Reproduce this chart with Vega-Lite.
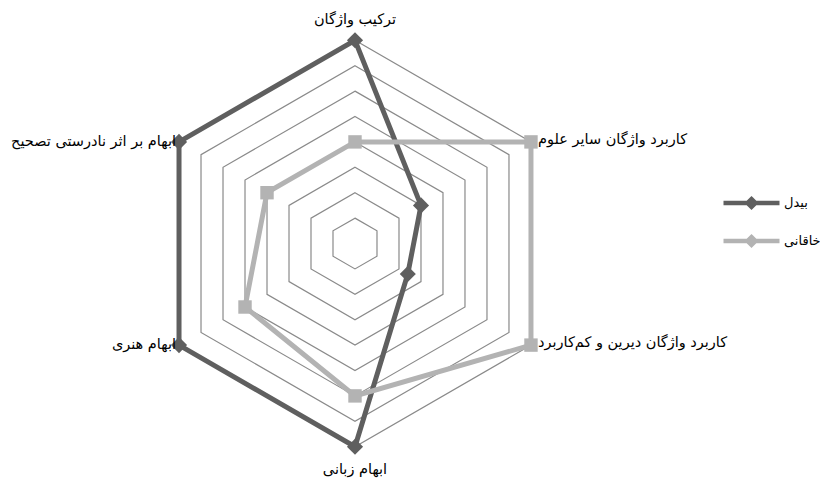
{
  "$schema": "https://vega.github.io/schema/vega-lite/v6.json",
  "width": 820,
  "height": 483,
  "autosize": {"type": "none"},
  "padding": 0,
  "background": "white",
  "config": {"view": {"stroke": null}, "font": "DejaVu Sans"},
  "datasets": {
    "scores": [
      {"series": "بیدل", "axis": 0, "value": 8},
      {"series": "بیدل", "axis": 1, "value": 3},
      {"series": "بیدل", "axis": 2, "value": 2.4},
      {"series": "بیدل", "axis": 3, "value": 8},
      {"series": "بیدل", "axis": 4, "value": 8},
      {"series": "بیدل", "axis": 5, "value": 8},
      {"series": "خاقانی", "axis": 0, "value": 4},
      {"series": "خاقانی", "axis": 1, "value": 8},
      {"series": "خاقانی", "axis": 2, "value": 8},
      {"series": "خاقانی", "axis": 3, "value": 6},
      {"series": "خاقانی", "axis": 4, "value": 5},
      {"series": "خاقانی", "axis": 5, "value": 4}
    ],
    "axes": [
      {"axis": 0, "label": "ترکیب واژگان"},
      {"axis": 1, "label": "کاربرد واژگان سایر علوم"},
      {"axis": 2, "label": "کاربرد واژگان دیرین و کم‌کاربرد"},
      {"axis": 3, "label": "ابهام زبانی"},
      {"axis": 4, "label": "ابهام هنری"},
      {"axis": 5, "label": "ابهام بر اثر نادرستی تصحیح"}
    ],
    "grid": [
      {"level": 1, "axis": [0, 1, 2, 3, 4, 5]},
      {"level": 2, "axis": [0, 1, 2, 3, 4, 5]},
      {"level": 3, "axis": [0, 1, 2, 3, 4, 5]},
      {"level": 4, "axis": [0, 1, 2, 3, 4, 5]},
      {"level": 5, "axis": [0, 1, 2, 3, 4, 5]},
      {"level": 6, "axis": [0, 1, 2, 3, 4, 5]},
      {"level": 7, "axis": [0, 1, 2, 3, 4, 5]},
      {"level": 8, "axis": [0, 1, 2, 3, 4, 5]}
    ]
  },
  "encoding": {
    "x": {"field": "x", "type": "quantitative", "axis": null, "scale": {"domain": [-13.976, 18.307], "nice": false, "zero": false}},
    "y": {"field": "y", "type": "quantitative", "axis": null, "scale": {"domain": [-9.429, 9.587], "nice": false, "zero": false}}
  },
  "layer": [
    {
      "data": {"name": "grid"},
      "transform": [
        {"flatten": ["axis"]},
        {"calculate": "datum.level * sin(datum.axis * PI / 3)", "as": "x"},
        {"calculate": "datum.level * cos(datum.axis * PI / 3)", "as": "y"}
      ],
      "mark": {"type": "line", "stroke": "#8a8a8a", "strokeWidth": 1.2, "interpolate": "linear-closed"},
      "encoding": {
        "detail": {"field": "level", "type": "nominal"},
        "order": {"field": "axis", "type": "quantitative"}
      }
    },
    {
      "data": {"name": "scores"},
      "transform": [
        {"calculate": "datum.value * sin(datum.axis * PI / 3)", "as": "x"},
        {"calculate": "datum.value * cos(datum.axis * PI / 3)", "as": "y"}
      ],
      "mark": {"type": "line", "strokeWidth": 5, "interpolate": "linear-closed", "strokeJoin": "miter"},
      "encoding": {
        "order": {"field": "axis", "type": "quantitative"},
        "color": {"field": "series", "type": "nominal", "scale": {"domain": ["بیدل", "خاقانی"], "range": ["#5f5f5f", "#b3b3b3"]},
          "legend": {"title": null, "orient": "none", "legendX": 721, "legendY": 184, "symbolType": "M-1,0L1,0M0,-0.14L0.14,0L0,0.14L-0.14,0Z", "symbolSize": 3136, "symbolStrokeWidth": 4.5, "clipHeight": 38, "labelFont": "DejaVu Sans", "labelFontSize": 13, "labelColor": "black", "labelOffset": 2, "rowPadding": 0}}
      }
    },
    {
      "data": {"name": "scores"},
      "transform": [
        {"calculate": "datum.series", "as": "marker"},
        {"calculate": "datum.value * sin(datum.axis * PI / 3)", "as": "x"},
        {"calculate": "datum.value * cos(datum.axis * PI / 3)", "as": "y"}
      ],
      "mark": {"type": "point", "filled": true, "opacity": 1},
      "encoding": {
        "fill": {"field": "marker", "type": "nominal", "scale": {"range": ["#5f5f5f", "#b3b3b3"]}, "legend": null},
        "shape": {"field": "marker", "type": "nominal", "scale": {"range": ["diamond", "square"]}, "legend": null},
        "size": {"field": "marker", "type": "nominal", "scale": {"range": [260, 180]}, "legend": null}
      }
    },
    {
      "data": {"name": "axes"},
      "transform": [
        {"filter": "datum.axis === 0"},
        {"calculate": "8 * sin(datum.axis * PI / 3)", "as": "x"},
        {"calculate": "8 * cos(datum.axis * PI / 3)", "as": "y"}
      ],
      "mark": {"type": "text", "align": "center", "baseline": "alphabetic", "dy": -16, "fontSize": 14.5, "font": "DejaVu Sans", "color": "black"},
      "encoding": {"text": {"field": "label"}}
    },
    {
      "data": {"name": "axes"},
      "transform": [
        {"filter": "datum.axis === 3"},
        {"calculate": "8 * sin(datum.axis * PI / 3)", "as": "x"},
        {"calculate": "8 * cos(datum.axis * PI / 3)", "as": "y"}
      ],
      "mark": {"type": "text", "align": "center", "baseline": "middle", "dy": 23, "fontSize": 14.5, "font": "DejaVu Sans", "color": "black"},
      "encoding": {"text": {"field": "label"}}
    },
    {
      "data": {"name": "axes"},
      "transform": [
        {"filter": "datum.axis === 1 || datum.axis === 2"},
        {"calculate": "8 * sin(datum.axis * PI / 3)", "as": "x"},
        {"calculate": "8 * cos(datum.axis * PI / 3)", "as": "y"}
      ],
      "mark": {"type": "text", "align": "left", "baseline": "middle", "dx": 7, "dy": -2, "fontSize": 14.5, "font": "DejaVu Sans", "color": "black"},
      "encoding": {"text": {"field": "label"}}
    },
    {
      "data": {"name": "axes"},
      "transform": [
        {"filter": "datum.axis === 4 || datum.axis === 5"},
        {"calculate": "8 * sin(datum.axis * PI / 3)", "as": "x"},
        {"calculate": "8 * cos(datum.axis * PI / 3)", "as": "y"}
      ],
      "mark": {"type": "text", "align": "right", "baseline": "middle", "dx": -3, "dy": 0, "fontSize": 14.5, "font": "DejaVu Sans", "color": "black"},
      "encoding": {"text": {"field": "label"}}
    }
  ]
}
